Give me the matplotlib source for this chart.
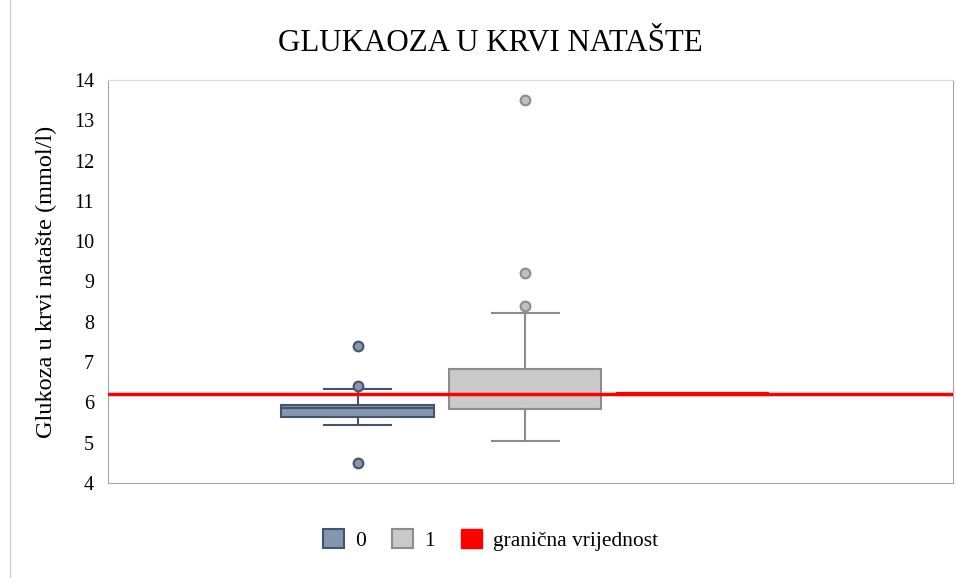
import matplotlib.pyplot as plt
from matplotlib.patches import Patch
from matplotlib.lines import Line2D

plt.rcParams['font.family'] = ['Liberation Serif', 'DejaVu Serif']

# five-number summaries
groups = ['0', '1']
q1 = [5.65, 5.84]
median = [5.87, 6.2]
q3 = [5.93, 6.83]
whis_lo = [5.45, 5.05]
whis_hi = [6.34, 8.23]
outliers = [[7.4, 6.4, 4.5], [13.5, 9.2, 8.4]]
threshold = 6.2

fill = ['#8497B0', '#C9C9C9']
edge = ['#44546A', '#8C8C8C']
flier_fill = ['#8497B0', '#BFBFBF']

fig = plt.figure(figsize=(9.56, 5.78), dpi=100)
ax = fig.add_axes([108/956, 95/578, 845/956, 403/578])

for i in range(len(groups)):
    st = [dict(q1=q1[i], med=median[i], q3=q3[i], whislo=whis_lo[i],
               whishi=whis_hi[i], fliers=outliers[i])]
    ax.bxp(st, positions=[i], widths=0.91, patch_artist=True,
           boxprops=dict(facecolor=fill[i], edgecolor=edge[i], linewidth=1.5),
           medianprops=dict(color=edge[i], linewidth=1.5),
           whiskerprops=dict(color=edge[i], linewidth=1.5),
           capprops=dict(color=edge[i], linewidth=1.5),
           flierprops=dict(marker='o', markerfacecolor=flier_fill[i],
                           markeredgecolor=edge[i], markersize=7, markeredgewidth=1.5),
           capwidths=0.4)

# third series: the threshold as a flat box
st = [dict(q1=threshold, med=threshold, q3=threshold, whislo=threshold,
           whishi=threshold, fliers=[])]
ax.bxp(st, positions=[2], widths=0.91, patch_artist=True,
       boxprops=dict(facecolor='none', edgecolor='red', linewidth=1),
       medianprops=dict(color='red', linewidth=3),
       whiskerprops=dict(color='red', linewidth=0),
       capprops=dict(color='red', linewidth=0))

ax.axhline(threshold, color='red', linewidth=2.5, zorder=5)

ax.set_xlim(-1.49, 3.555)
ax.set_ylim(4, 14)
ax.set_yticks(range(4, 15))
ax.set_xticks([])
ax.tick_params(axis='y', length=0, labelsize=14.5, pad=10)
ax.set_ylabel('Glukoza u krvi natašte (mmol/l)', fontsize=17.5, labelpad=12)

for side in ['left', 'bottom', 'right']:
    ax.spines[side].set_color('#A6A6A6')
ax.spines['top'].set_color('#D9D9D9')

fig.text(0.513, 0.925, 'GLUKAOZA U KRVI NATAŠTE', ha='center', va='center', fontsize=22.3)

handles = [Patch(facecolor=fill[0], edgecolor=edge[0], linewidth=1.5),
           Patch(facecolor=fill[1], edgecolor=edge[1], linewidth=1.5),
           Patch(facecolor='red', edgecolor='red')]
fig.legend(handles, ['0', '1', 'granična vrijednost'], loc='center',
           bbox_to_anchor=(0.513, 0.066), ncol=3, frameon=False, fontsize=15.5,
           handlelength=1.0, handleheight=1.0, handletextpad=0.5, columnspacing=1.2)

fig.add_artist(Line2D([10/956, 10/956], [0, 1], color='#D0D0D0', linewidth=1))

fig.savefig('out.png', dpi=100)
